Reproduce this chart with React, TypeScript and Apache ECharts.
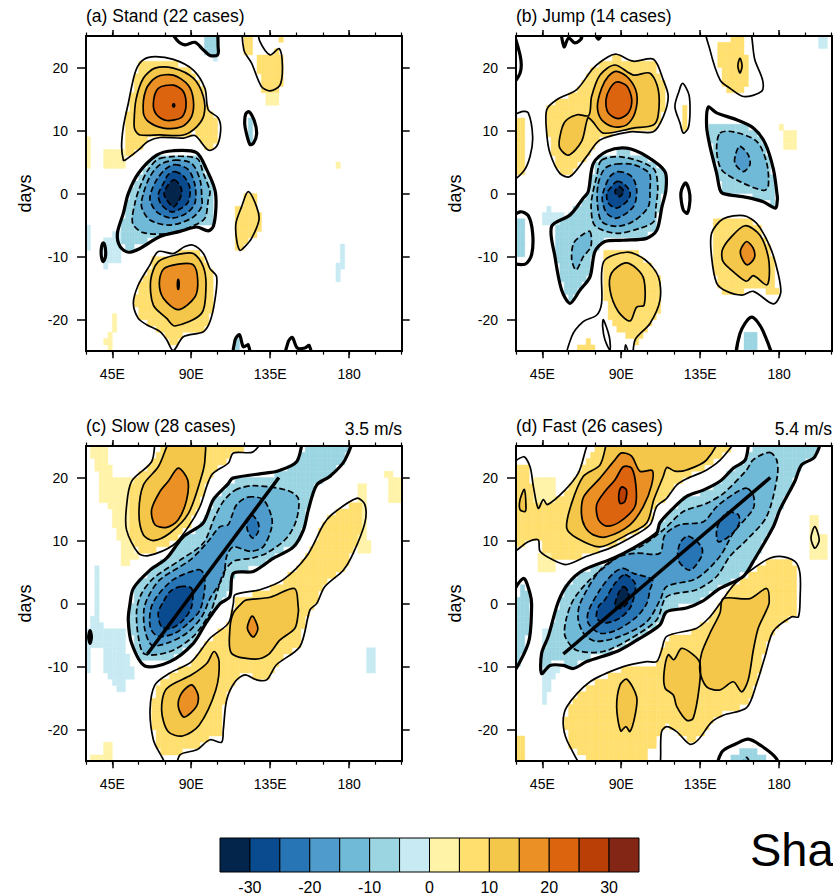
import React, { useEffect, useRef } from "react";
import * as echarts from "echarts";

type Contour = [number, number[], number?];
type Rect = [number, number, number, number, number];

const titles = ["(a) Stand (22 cases)", "(b) Jump (14 cases)", "(c) Slow (28 cases)", "(d) Fast (26 cases)"];
const speeds = ["", "", "3.5 m/s", "5.4 m/s"];
const lonMajor = [45, 90, 135, 180];
const lonMinor = [30, 45, 60, 75, 90, 105, 120, 135, 150, 165, 180, 195, 210];
const dayTicks = [-20, -10, 0, 10, 20];
const barEdges = [-35, -30, -25, -20, -15, -10, -5, 0, 5, 10, 15, 20, 25, 30, 35];
const barLabels = [-30, -20, -10, 0, 10, 20, 30];
const barColors = ["#03254c", "#0a4a8f", "#2875b5", "#4f9ccc", "#70bad7", "#9bd5e2", "#c8eaf3", "#fff3a8", "#ffdf6e", "#f4c74a", "#ea9024", "#dc640f", "#b93f06", "#842615"];
const levelColor: Record<string, string> = { "-30": "#03254c", "-25": "#0a4a8f", "-20": "#2875b5", "-15": "#4f9ccc", "-10": "#70bad7", "-5": "#9bd5e2", "-1": "#c8eaf3", "1": "#fff3a8", "5": "#ffdf6e", "10": "#f4c74a", "15": "#ea9024", "20": "#dc640f", "25": "#b93f06" };

const standContours: Contour[] = [
  [5, [51.3,5.3,50.3,7.5,51.3,10.6,54.1,14.3,57.9,19.1,61.7,21,67.4,21.7,79.8,21.3,91.2,19.6,97.8,16.7,99.7,13.3,105.4,12,106.8,10.1,104.5,7.5,99.7,6.9,92.1,9.2,85.5,8.8,72.2,8.9,65.5,8.3,59.8,6.9,52.2,5.3]],
  [10, [57.4,11.2,58.5,14.9,62.7,18.3,69.3,19.9,79.8,19.9,91.2,18.3,96.9,15.4,97.3,12.5,93.1,10.6,85.5,9.3,72.2,9.3,60.8,9.3,57.9,10.1]],
  [15, [62.7,12.8,64.2,16.5,70.3,18.5,79.8,18.8,88.3,17.2,91.2,14.9,90.2,12.2,84.5,10.6,74.1,10.4,65.7,11.4]],
  [20, [68.4,14.3,71.2,16.7,79.8,17.2,85.5,16.2,87,13.8,84.5,12.1,76,11.6,70.3,12.5]],
  [25, [79.6,14.2,80.4,14.2,80.4,13.8,79.6,13.8]],
  [5, [119.7,25,120,22.8,124.4,20.7,130,17,134.9,16.3,140.6,17.2,142,20.2,140.2,23,134.9,22,129.2,24.1,126.3,25], 0],
  [-5, [77,25,81.7,24.4,86.4,23.6,92.1,24,96.9,22.8,100.7,21.9,105,22,105.4,23,103,25], 0],
  [-5, [123,13,126,11.5,127.3,9.5,125.5,8,123.5,7.8,121.5,9.5,120.5,11,121,12.6]],
  [-5, [70.3,6.1,79.8,6.8,93,6.5,98.8,3.8,103.5,0.6,104.1,-2.1,102.6,-5.2,99.7,-5.9,93.1,-5.3,83.6,-6,72.2,-6.8,60.8,-8.7,54.1,-9.3,49.4,-8.4,47.9,-6.3,51.3,-3.1,54.1,0,59.8,3.2]],
  [-10, [72.2,5.6,93.1,5.6,96.9,3.2,100.7,0.3,99.7,-1,97.8,-3.9,91.2,-5.1,77.9,-6.3,62.7,-6.2,56.6,-4.7,57.9,-1.5,60.8,1.1,65.5,3.8]],
  [-15, [80.7,5.3,90.2,4.8,95,2.2,96,-0.5,95.9,-2.1,90.2,-3.9,77.9,-5,66.5,-4.2,61.7,-2.1,62.7,0,66.5,2.7,72.2,4.6]],
  [-20, [80.7,4.6,88.3,3.8,92.1,1.4,92.1,-1.5,87.4,-3.1,78.8,-3.9,70.3,-2.9,66.5,-1,67.4,0.5,70.3,2.2,75,3.8]],
  [-25, [80.7,3.5,85.9,2.7,89.3,0.8,88.3,-1.3,84.5,-2.3,78.8,-2.9,73.1,-1.8,71.2,-0.2,74.1,1.6,76.9,3]],
  [-30, [80.3,2.2,84,1.1,84.5,0,82.6,-1.3,79.8,-2.1,76,-1,74.5,0,76.9,1.4]],
  [-5, [39.9,-7.8,41,-8.6,41.1,-10,39.9,-10.8,38.8,-10,38.8,-8.6]],
  [5, [122.5,0.3,127.3,-2.1,128.6,-4.2,124.4,-7.1,120.6,-8.4,117.8,-9,115.9,-7.4,115.5,-4.7,118.7,-2.1]],
  [5, [91.2,-8.2,96.9,-9.5,100.7,-11.9,104.5,-13.2,103.5,-16.9,100.7,-20.3,96.9,-21.9,85.5,-22.7,79.8,-24.9,76,-23.2,72.2,-21.9,64.6,-20.8,59.8,-19.8,57,-17.4,59.8,-14.5,66.5,-11.3,71.2,-9.2,79.8,-9.5,86.4,-8.4]],
  [10, [91.2,-9.5,96.9,-11.6,98.4,-14.8,95.9,-19,80.7,-21,76,-19.8,68.4,-17.7,66.9,-13.7,71.2,-10.8,81.7,-9.7]],
  [15, [82.6,-11.2,91.2,-11.3,93.7,-13.7,92.1,-16.4,82.6,-18.4,74.1,-16.6,71.8,-14.2,74.1,-12]],
  [20, [82.6,-13.6,83.1,-14.4,82.6,-15.2,82.1,-14.4]],
  [-5, [114,-25,115,-23.2,117.5,-22.4,119.7,-24.3,122.5,-24,123.5,-25], 0],
  [-5, [143.4,-25,145.3,-23.5,147.6,-22.8,150.5,-24.5,154.8,-24.5,157.3,-24.1,158.7,-25], 0],
];
const standShades: Contour[] = [[5, [127.5,22,134,22,141,23,142.5,18,137,15.5,130.5,16.5,127.5,20]]];
const standRects: Rect[] = [
  [120,125,22,25,5],[140,142.5,24,25,5],[132.5,140,14,16,1],[30,32.5,4,9,1],[40,52.5,4,7,1],
  [30,32.5,-9,-5,-1],[40,50,-11,-7,-1],[40,42.5,-12,-11,-1],[45,50,-8,-6,-1],[175,177.5,-12,-8,-1],[172.5,175,-14,-11,-1],
  [45,47.5,-22,-19,1],[42.5,45,-25,-22,1],[40,42.5,-24,-23,1],[172.5,175,4,5,1],[102.5,105,21,22,-1],[97.5,105,22,25,-5],
  [125,130,-6,-3,5],[115,120,-9,-2,5],[120,127.5,-7,0,5],[115,117.5,-25,-23,-5],[122.5,125,8,12,-5],
];

const jumpContours: Contour[] = [
  [5, [47.5,13.3,53.2,14.9,64.6,16.5,74.1,19.9,82.6,21.7,87.4,22.1,96.9,21,108.4,21.3,114,18,116.8,15.4,114,12.2,108.3,9.8,95,9.8,77.9,8.5,70.3,5.9,60.8,2.7,55,3.2,49.4,6.4,47.5,9.6]],
  [10, [55,9,57.9,11.4,64.9,12.5,71.5,12.4,73.1,15.4,77.9,18.8,86.4,20.4,96.9,18.8,106.4,19.1,111.1,16.5,111.1,12.5,108.3,10.9,96.9,10.4,79.8,9.6,73.5,11.5,71,12,67.4,8.3,60,6.1,55,7.2]],
  [15, [87.4,19.4,94.2,18.3,98.8,15.9,97.8,12.8,93.1,10.9,85.5,10.6,78.8,11.7,76.4,13.8,78.8,16.7,82.6,18.6]],
  [20, [87.4,17.7,93.1,17.1,96,14.9,94,12.8,88.3,11.9,82.6,12.8,81.3,14.9,83.6,16.7]],
  [5, [30,11.7,33.2,13,37,12.8,39.5,9,38,5.9,34.2,3.5,30,1.9], 0],
  [5, [138.3,25,140.6,22.8,146.4,18,152.1,16.7,159.7,15.4,170,16.2,170.6,18,166.2,21.2,161.4,25], 0],
  [10, [157.7,21.5,158.9,20.3,157.7,19.1,156.5,20.3]],
  [5, [125,17.5,128.6,15.7,129.2,12.8,128.2,10.4,125.4,9.6,123.5,11.2,120.6,13.8,122.9,16.2], 0],
  [-5, [139.6,13.7,144.4,12.8,155.8,11.7,165.3,10.4,172,8,176.8,3.8,179,-0.5,179,-1,178,-2.3,171,-1.3,161.5,-0.6,148.2,0,146.3,0.6,144.4,3.2,140.6,7.5,138.7,10.6]],
  [-10, [146.3,9.6,153.9,9.8,167.2,8.3,173,4.8,173.8,1.1,171,0.5,157.7,1.9,147.2,3.8,144.4,6.9]],
  [-15, [157.7,7.5,162.5,6.1,163.4,4.6,159.6,3.5,154.8,4.8,155.4,6.4]],
  [-5, [74.1,4.8,81.7,6.7,93.1,7.2,104.5,5.9,114.9,3.5,115.5,0.6,113.2,-2.1,110.3,-5.8,104.5,-7.1,91.2,-7.4,80.7,-7.6,75,-9.2,72.2,-13.2,66.5,-15.3,60.8,-17.4,56,-15.3,52.2,-10,50.3,-5.2,60.8,-3.4,68.4,-0.7,71.2,0.3]],
  [-10, [78.8,5.3,91,5.8,108.3,4,110.8,1.1,109.8,-2.1,108.7,-4.4,100.7,-5.5,87.4,-6.3,75,-5.1,72.8,-2.1,73.7,0,76,2.7]],
  [-15, [87.4,4.7,96.9,4.6,106,3.2,106.4,0.8,105.4,-2.1,96.9,-4.4,87.4,-5.2,78.8,-4.4,76.4,-1.5,76.9,1.6,80.7,4]],
  [-20, [88.3,3.5,96,2.7,98.8,0.6,96.9,-2.1,87.4,-3.9,81.7,-3.1,79.2,-1,79.8,0.3,83.6,2.7]],
  [-25, [87.4,1.9,91.2,1.6,95,0.3,94,-1,87.4,-2.3,82.6,-1.5,81.7,0,83.6,0.8]],
  [-30, [88.9,1.1,91.4,0.3,88.9,-0.5,86.4,0.3]],
  [-10, [72.2,-6,72.7,-8.4,68.4,-10,64.3,-12.1,61.8,-10.5,62.8,-7.9,67.5,-6.6]],
  [-5, [30,-4.4,32.3,-2.9,37,-3.5,39.5,-6.3,38.9,-9.7,35.1,-11.2,30,-10.6], 0],
  [-5, [126.7,1.7,128.6,0.6,129.2,-1,127.7,-3.1,125.4,-2.6,124,-0.5,124.4,0.6], 0],
  [5, [148.2,-4,159.7,-3.5,167.2,-4.7,174.8,-8.4,179.4,-12.6,180.9,-15.8,176.7,-17.5,165.3,-15.5,158.7,-16.1,150.1,-15.5,144.4,-14.2,141.5,-10,141.5,-6.3], 0],
  [10, [160.6,-5.1,169.1,-6.6,173.8,-10,174.4,-13.2,172.9,-14.5,165.3,-13,161.5,-13.9,154.8,-12.6,148.1,-10.8,147.6,-9,152,-7.1]],
  [15, [161.5,-7.6,165.3,-8.7,165.9,-10.2,161.9,-11.3,158.7,-10.2,158.1,-8.9]],
  [5, [93.1,-9.3,103.6,-10.5,111.2,-13.2,112.1,-16.9,106.4,-20.6,97.9,-23.2,96,-25,92.5,-24,90.2,-25,59.3,-25,61.7,-22.7,68.3,-20.3,75.9,-19.3,78.8,-17.4,80,-10.8], 0],
  [5, [79.8,-20,83.2,-22.7,83.6,-24.8,80.7,-23.2,79.4,-21.1], 0],
  [10, [92.2,-11,98.8,-11.9,103,-13.7,103,-17.7,98.8,-18,95,-20.2,88.3,-18.7,83.6,-15.3,84.5,-12.6]],
  [-5, [156.7,-25,157.7,-22.2,164.3,-19.6,171,-21.9,175.7,-25], 0],
  [-5, [30,25,32.3,22,32.3,19.1,30,17], 0],
  [-5, [56,25,57.4,23.3,60,24.7,63.6,23.9,67.4,24.8], 0],
  [-5, [73.7,25,77,24.5,80.7,25], 0],
];
const jumpShades: Contour[] = [
  [5, [80,-9,98,-9,113,-13,113,-18,105,-22,100,-24,89,-22,84,-20,79,-14.7]],
  [5, [145,24,160,25,163,17,155,15.5,147,17]],
  [5, [143,-4,158,-3.5,168,-5,177,-10,179,-16,168,-15,152,-16,145,-15,141.5,-10]],
];
const jumpRects: Rect[] = [
  [30,35,3,12,5],[125,127.5,10,14,5],[30,35,-10,-4,-5],[45,57.5,-5,-3,-1],[47.5,50,-3,-2,-1],
  [65,75,-25,-24,5],[70,72.5,-24,-23,5],[160,167.5,-25,-22,-5],[202.5,207.5,23,25,-1],
  [180,182.5,10,11,1],[182.5,190,7,10,1],[152.5,155,16,17,5],[137.5,167.5,11,14,0],
];

const slowContours: Contour[] = [
  [5, [72.2,25,67.4,22.5,56,19.4,53.1,15.4,53.1,11.7,59.8,8,65.5,7.6,79.8,9.3,88.4,12.2,95,15.4,101.6,20.4,111.2,22.3,114,23.9,125.4,24.1,131,25]],
  [10, [80.7,25,71.2,21.7,62.7,18.8,60.2,14.3,62.7,10.9,68.4,10,77.9,11.2,88.4,14.3,95.9,20.2,97.8,22.8,96.9,25]],
  [15, [82.6,21.5,88,19.6,87.4,16.5,82.6,13.3,76,12.1,69.3,12.5,67.4,14.9,72.2,17.8,76.9,19.4]],
  [-5, [156.2,25,150.1,22.5,139,21,132.3,20.7,113.7,19.9,111,19,102.6,16.5,96.8,12.8,85.4,10.6,76,7.2,66.5,5.3,57,2.4,55,-0.2,54.1,-2.6,56,-6.3,63.6,-9.9,77.9,-9.2,91.2,-6.3,98.8,-2.9,106.4,0,112,1.1,114,4.8,125.4,5.1,136.9,7.2,148.3,9,154,11.7,156.8,14.9,161.5,18.8,169.1,20.2,177.7,22.8,181.4,25]],
  [-10, [115,18,125.4,18.7,144.4,18,151,16.7,150,13.3,144.4,10.4,133,8,124.4,7.2,114,6.7,108.3,4.8,103.5,0.6,100.7,-1.5,91.2,-5.2,77.9,-7.6,63.4,-8,59.8,-5.2,58.9,-1,61.7,1.6,68.4,4,83.6,6.9,96.9,9.6,103.5,13.8,108.3,16.2]],
  [-15, [122.5,16.9,131,16.5,135.8,13.8,135.8,12,131,9,123.5,8.3,114,9,110.2,7.5,108.3,4.3,100.7,0.8,96,-2.1,87.4,-4.7,76,-6.3,67.5,-6.6,63.6,-4.2,63,-1,65.5,1.1,72.2,3.8,89.3,6.9,98.8,9.6,106.4,12.2,111,12.5,113,13.8,115.9,15.7]],
  [-20, [124.4,14.1,128.2,12.8,128.2,11.4,125,10.4,122,11.7,122,13.5]],
  [-20, [94,5.4,96.9,4.8,97.8,2.7,95,-1,88.3,-3.1,80.7,-4.7,71.2,-5.2,66.8,-3.9,66.8,-1,70.3,1.1,79.8,3.8]],
  [-25, [83.6,2.7,90.2,2.4,90.2,-0.5,85.5,-2.6,78.8,-3.9,73.1,-3.7,71.2,-1.5,74.1,0.3,77.9,1.9]],
  [5, [114,0,115,1.4,129.2,2.2,142.5,3.8,155.8,7.5,165.3,12.5,170,14.1,184.3,16.7,189,15.7,189,12.8,182.4,8,176.7,5.3,166.2,2.7,161.5,0,157.7,-1,152,-6.8,138.6,-9.7,133,-12.1,127.3,-12.1,120.6,-11.3,115,-12.4,110.2,-15.3,108.3,-20,107.3,-22,100.7,-21.6,93.1,-23.2,83.6,-24,79.8,-25,72.2,-23.8,68.4,-21.6,66.5,-16.9,69.3,-12.9,77.9,-11,90.2,-9.2,100.7,-5.5,111.2,-3.1]],
  [10, [103,-7.6,105.9,-9.2,104,-13.7,94.5,-19.3,85,-21,76.8,-20.3,73.1,-16.9,75.9,-13.5,90.2,-11.3,98.8,-9.5]],
  [15, [90.2,-12.9,93.9,-14.5,93,-16.3,86,-18,82.6,-16.3,84.5,-14.2]],
  [10, [121.6,0.6,135,1,148.9,2.4,151,-0.5,151,-1.5,149.1,-3.9,140.5,-5.8,133.9,-8.1,126.4,-8.8,113,-7.9,112,-4.2,114,-1.5,119.7,0.3]],
  [15, [124.8,-2,128,-3.9,125.4,-5.3,122,-3.9]],
  [-5, [32.3,-4.3,33.1,-5.3,32.3,-6.3,31.5,-5.3]],
];
const slowShades: Contour[] = [
  [1, [32.5,25,42.5,25,45,20,57,20,54,12,60,7,51,6,50,9,47,11.5,42.5,16,37.5,16,37.5,20,32.5,24]],
  [-1, [35,0,37.5,0,37.5,-2,40,-3,42.5,-4,53,-4,54,-9,57,-10,57,-12,53,-12.5,51,-14,47.5,-14,45,-12,42.5,-11,40,-10,40,-7,32.5,-7,32.5,-11,30,-11,30,-4,32.5,-4]],
  [1, [185,19,190,19,190,10,193,9,193,8,184,8]],
];
const slowRects: Rect[] = [
  [35,37.5,0,6,-1],[190,195,-11,-7,-1],[32.5,45,-25,-24,1],[40,45,-24,-22,1],[200,205,20,21,1],[202.5,210,16,20,1],
];

const fastContours: Contour[] = [
  [5, [30,8,30,21.2,34.2,23.3,38,21.7,39.9,18.6,42.7,15.1,45.6,16.5,47.9,15.7,57.9,18,65.5,20.7,75.9,25,155.8,25,148.2,23.3,138.7,21.2,127.3,19.8,121.6,18.8,115.9,16.7,110.2,15.4,106.4,12.5,95,10.4,83.6,8.8,70.3,7.5,58.9,6.2,51.3,6.9,43.7,8.3,42.7,10.1,37,9.8]],
  [10, [58.9,12,61.7,15.9,68.4,20.2,77.9,22,85.5,25,145.3,25,138.7,22.8,127.3,21.2,120.6,21,116,21.6,114,20.2,108.6,16.5,104.5,12.8,93,10.9,77.9,9,64.6,10.4]],
  [15, [67.3,14.3,68.7,17,77.9,19.9,86.4,22.8,90.2,23.9,95.9,23.4,100.7,21,107.7,21.1,107.3,18.8,102.6,15.4,95,12.5,81.7,10.6,74.1,10.9,69.3,12.2]],
  [20, [76,15.7,80.7,17.8,86.4,19.6,91.2,21.7,95.9,21.5,98.4,18.6,97.8,15.4,89.3,13,81.7,12.3,77,13.3]],
  [25, [90.2,18.5,93,18,92.1,16.2,89.3,15.9,88.7,17.5]],
  [10, [34.8,18.1,35.7,15.4,35.2,14.6,32.3,14.9,32.3,16.5]],
  [5, [200.4,12.2,202.9,10.1,200.4,8.8,198.2,10.4], 0],
  [-5, [165.4,25,160.7,22.8,154,21.5,146.3,19.4,136.8,18,127.3,17,118.8,14.9,112,12.8,110.2,11.2,96.9,8.8,85.5,7.2,68.4,5.3,59.8,3.2,54.1,0.3,48.4,-5.2,44.6,-7.9,44.6,-11.1,49.4,-9.8,57,-9.8,62.7,-10.3,70.3,-9.2,87.4,-7.6,98.8,-5.8,112,-3.4,115.8,-1.3,127.2,-0.7,135.8,0.3,146.3,2.4,159.6,4.3,165.3,6.7,176.7,12.2,180.5,14.9,189,19.4,192.8,22,200.4,23.3,203.3,25]],
  [-10, [174.5,24,178.6,22.8,179,20.2,172.9,13.8,161.5,10.1,152,7.5,144.4,4.3,133,2.2,116,1.1,110.2,-2.6,95,-5.6,79.8,-7.6,64.6,-7.4,58,-5.2,58.5,-2.6,62.7,0.6,72.2,3.8,91.2,8,100.7,9,114,11.7,125.4,14.6,138.7,15.9,148.3,17.5,161.5,21.2,165.2,22.8]],
  [-15, [161.5,18.3,165.3,17.2,165.3,15.1,153.9,11.2,146.3,7.5,133,4,115.9,2.7,112.2,0.6,104.5,-2.9,89.3,-5.2,76,-6,69.3,-5,65.5,-2.6,66.5,0,77.9,5.3,89.3,7.5,98.8,8,112,8,114.9,10.9,123.4,12.5,136.9,13,144.5,15.4,154.8,17.5]],
  [-20, [150.8,14.5,156.7,14.1,157.3,12.8,152.9,11,145.4,9.8,144.4,11.7,147.2,13.5]],
  [-20, [128.2,10.7,135.8,9,135.8,7.5,129.2,5.3,122.5,6.9,123.5,9.6]],
  [-20, [91.2,5.6,96.9,4.8,107.7,3.8,106.4,2.2,104.5,0,98.8,-2.1,87.4,-4.2,77.9,-4.7,71.2,-3.1,71.2,-1.3,77.9,2.2,85.5,4.8]],
  [-25, [92.1,4.6,97.9,3.2,97.3,1.1,95,-0.7,89.3,-2.3,80.7,-3.1,76,-2.3,77,-0.5,80.7,0.6,86.4,3.2]],
  [-30, [91.2,2.7,93.9,1.9,93.9,0.3,90.2,-0.7,86.4,-0.5,88.3,1.6]],
  [-5, [30,0,34.2,4,38,1.6,38.9,-0.5,37,-6.3,30,-11.5]],
  [5, [146.3,0,155,3.2,172.5,6.9,180.5,7.5,189,6.7,191.9,4.8,192,1,191,-2.1,187.2,-2.1,176.7,-4.4,172,-8.4,167.3,-12.6,161.5,-16.5,148.2,-17.7,141.5,-18.8,133.9,-21.6,129.1,-22.3,121.6,-20.3,115.9,-19.5,113,-20.3,109.6,-25,72.2,-25,60.8,-22.7,57,-19.5,58.9,-16.4,72.2,-12.4,91.2,-10,104.5,-9.2,110.2,-9.2,113,-7.4,115.9,-5.2,133,-3.9,140.6,-2.1]],
  [10, [148.2,0.8,163.4,0.8,172.9,2.4,174.4,0.3,172.9,-1,168.1,-3.9,165.3,-7.4,162.4,-12.1,158.7,-14,153.9,-12.4,146.3,-13.7,138.7,-13.2,134.9,-10.8,135.8,-7.9,140.6,-4.7,146.3,-1.5]],
  [10, [124.4,-7.1,131,-8.1,134.9,-9.5,134.5,-13.2,131,-18.2,127.3,-18.5,121.6,-16.3,119.7,-14.5,115,-13.4,114.4,-11,116.8,-8.1,120,-8.9]],
  [10, [93.2,-12,98.8,-14.8,97.9,-17.7,95,-20.3,92.7,-19.5,89.7,-20.2,87.4,-16.4,89.3,-12.9]],
  [-5, [145.3,-25,147.2,-23.6,155.8,-22.2,162.4,-21.5,169,-22.4,178.5,-24.6,179.5,-25], 0],
  [-10, [156.7,-25,161.5,-24.4,164.3,-25]],
];
const fastShades: Contour[] = [
  [1, [40,20,52,20,52,15,45,15,40,15]],
  [-1, [47,-3.5,50,-4,50,-10,55,-10,52,-12,50,-13,47.5,-15.5,45,-15.5,44.5,-10,44,-7]],
];
const fastRects: Rect[] = [
  [197.5,202.5,7,14,1],[202.5,207.5,7,11,1],[42.5,52.5,5,8,1],[30,35,-25,-21,5],
  [158,167.5,-24,-23,-5],[152.5,172.5,-25,-24,-5],[105,110,-25,-23,0],
];

const contourSets = [standContours, jumpContours, slowContours, fastContours];
const shadeSets = [standShades, jumpShades, slowShades, fastShades];
const rectSets = [standRects, jumpRects, slowRects, fastRects];
const waveLons: (number[] | null)[] = [null, null, [65, 140], [57, 175]];
const waveDays = [-8, 20];

const BLACK = "#000";
const FONT = "Liberation Sans";
const panelRects = [
  { left: 86, top: 36 },
  { left: 516, top: 36 },
  { left: 86, top: 446 },
  { left: 516, top: 446 },
];
const W = 315.7;
const H = 315.2;

function inside(x: number, y: number, p: number[]) {
  let c = false;
  const n = p.length / 2;
  for (let i = 0, j = n - 1; i < n; j = i++) {
    const xi = p[2 * i], yi = p[2 * i + 1], xj = p[2 * j], yj = p[2 * j + 1];
    if (yi > y !== yj > y && x < ((xj - xi) * (y - yi)) / (yj - yi) + xi) c = !c;
  }
  return c;
}

// A cell takes a contour's colour when its centre and at least three corners fall inside;
// the original shading is masked a little inside its outermost contour.
function cellInside(lon: number, day: number, p: number[], strict: boolean) {
  if (!inside(lon + 1.25, day + 0.5, p)) return false;
  if (!strict) return true;
  let n = 0;
  for (const [a, b] of [[0, 0], [2.5, 0], [0, 1], [2.5, 1]]) {
    const edgeDay = Math.max(-24.99, Math.min(24.99, day + b));
    const edgeLon = Math.max(30.01, lon + a);
    if (inside(edgeLon, edgeDay, p)) n++;
  }
  return n >= 3;
}

function shadedCells(contours: Contour[], shades: Contour[], rects: Rect[]) {
  const m = new Map<string, number>();
  const put = (lon: number, day: number, lv: number) => {
    const k = lon + "," + day;
    const old = m.get(k);
    if (lv === 0) m.delete(k);
    else if (old === undefined || Math.abs(lv) >= Math.abs(old)) m.set(k, lv);
  };
  const lined = contours.filter((c) => Math.abs(c[0]) === 5 && c[2] !== 0);
  for (let lon = 30; lon < 210; lon += 2.5) {
    for (let day = -25; day < 25; day++) {
      for (const c of shades) if (cellInside(lon, day, c[1], false)) put(lon, day, c[0]);
      for (const c of lined) if (cellInside(lon, day, c[1], true)) put(lon, day, c[0]);
    }
  }
  for (const r of rects) {
    for (let lon = r[0]; lon < r[1] - 0.01; lon += 2.5) {
      for (let day = r[2]; day < r[3]; day++) put(Math.floor(lon / 2.5) * 2.5, day, r[4]);
    }
  }
  return [...m.entries()].map(([k, lv]) => {
    const [a, b] = k.split(",").map(Number);
    return [a, b, lv];
  });
}

function pushOut(lon: number, day: number) {
  return [lon <= 30 ? 26 : lon, day >= 25 ? 27 : day <= -25 ? -27 : day];
}

function buildOption() {
  const grid: any[] = [];
  const xAxis: any[] = [];
  const yAxis: any[] = [];
  const series: any[] = [];
  const title: any[] = [];
  const spine = { show: true, onZero: false, lineStyle: { color: BLACK, width: 2 } };

  panelRects.forEach((r, p) => {
    const g = grid.length;
    grid.push({ left: r.left, top: r.top, width: W, height: H });
    grid.push({ left: r.left, top: r.top, width: W, height: H });
    const xBase = { type: "value", min: 30, max: 210, z: 10, splitLine: { show: false }, axisLine: spine };
    const x0 = xAxis.length;
    xAxis.push({
      ...xBase, gridIndex: g, position: "bottom",
      axisTick: { show: true, length: 7, customValues: lonMajor, lineStyle: { color: BLACK, width: 1.5 } },
      axisLabel: { show: true, margin: 16, customValues: lonMajor, fontFamily: FONT, fontSize: 14, color: BLACK, formatter: (v: number) => (v === 180 ? "180" : v + "E") },
    });
    xAxis.push({ ...xBase, gridIndex: g, position: "top", axisTick: { show: true, length: 6, customValues: lonMajor, lineStyle: { color: BLACK, width: 1.5 } }, axisLabel: { show: false } });
    xAxis.push({ ...xBase, gridIndex: g + 1, position: "bottom", axisTick: { show: true, length: 3.5, customValues: lonMinor, lineStyle: { color: BLACK, width: 1.2 } }, axisLabel: { show: false } });
    xAxis.push({ ...xBase, gridIndex: g + 1, position: "top", axisTick: { show: true, length: 3.5, customValues: lonMinor, lineStyle: { color: BLACK, width: 1.2 } }, axisLabel: { show: false } });
    const yBase = { type: "value", min: -25, max: 25, z: 10, splitLine: { show: false }, axisLine: spine };
    const y0 = yAxis.length;
    yAxis.push({
      ...yBase, gridIndex: g, position: "left", name: "days", nameLocation: "middle", nameGap: 52, nameRotate: 90,
      nameTextStyle: { fontFamily: FONT, fontSize: 18, color: BLACK },
      axisTick: { show: true, length: 9, customValues: dayTicks, lineStyle: { color: BLACK, width: 1.5 } },
      axisLabel: { show: true, margin: 18, customValues: dayTicks, fontFamily: FONT, fontSize: 14, color: BLACK },
    });
    yAxis.push({ ...yBase, gridIndex: g, position: "right", axisTick: { show: true, length: 8, customValues: dayTicks, lineStyle: { color: BLACK, width: 1.5 } }, axisLabel: { show: false } });
    yAxis.push({ ...yBase, gridIndex: g + 1, position: "left", axisLine: { show: false }, axisTick: { show: false }, axisLabel: { show: false } });

    const contours = contourSets[p];
    const cells = shadedCells(contours, shadeSets[p], rectSets[p]);
    series.push({
      type: "custom", xAxisIndex: x0, yAxisIndex: y0, clip: true, z: 2, silent: true, data: cells,
      renderItem: (_: any, api: any) => {
        const a = api.coord([api.value(0), api.value(1) + 1]);
        const b = api.coord([api.value(0) + 2.5, api.value(1)]);
        const col = levelColor[String(api.value(2))];
        return { type: "rect", shape: { x: a[0], y: a[1], width: b[0] - a[0], height: b[1] - a[1] }, style: { fill: col, stroke: col, lineWidth: 0.4 } };
      },
    });
    const fills = contours.filter((c) => Math.abs(c[0]) >= 10).sort((u, v) => Math.abs(u[0]) - Math.abs(v[0]));
    const toPoints = (api: any, pts: number[]) => {
      const out: number[][] = [];
      for (let i = 0; i < pts.length; i += 2) out.push(api.coord(pushOut(pts[i], pts[i + 1])));
      return out;
    };
    series.push({
      type: "custom", xAxisIndex: x0, yAxisIndex: y0, clip: true, z: 3, silent: true,
      data: fills.map((_, i) => [i]),
      renderItem: (params: any, api: any) => {
        const c = fills[params.dataIndex];
        return { type: "polygon", shape: { points: toPoints(api, c[1]), smooth: 0.3 }, style: { fill: levelColor[String(c[0])] } };
      },
    });
    series.push({
      type: "custom", xAxisIndex: x0, yAxisIndex: y0, clip: true, z: 4, silent: true,
      data: contours.map((_, i) => [i]),
      renderItem: (params: any, api: any) => {
        const c = contours[params.dataIndex];
        const lv = c[0];
        return {
          type: "polygon",
          shape: { points: toPoints(api, c[1]), smooth: 0.3 },
          style: { fill: "none", stroke: BLACK, lineWidth: lv === -5 ? 3.2 : 1.7, lineDash: lv < -5 ? [6, 3] : undefined },
        };
      },
    });
    const wl = waveLons[p];
    if (wl) {
      series.push({
        type: "line", xAxisIndex: x0, yAxisIndex: y0, z: 5, silent: true, symbol: "none", clip: true,
        data: [[wl[0], waveDays[0]], [wl[1], waveDays[1]]],
        lineStyle: { color: BLACK, width: 3.5 },
      });
    }
    title.push({ text: titles[p], left: r.left, top: r.top - 29, textStyle: { fontFamily: FONT, fontSize: 17.5, fontWeight: "normal", color: BLACK }, padding: 0 });
    if (speeds[p]) {
      title.push({ text: speeds[p], left: r.left + W - 57, top: r.top - 26, textStyle: { fontFamily: FONT, fontSize: 17.5, fontWeight: "normal", color: BLACK }, padding: 0 });
    }
  });

  // colour bar
  const gb = grid.length;
  grid.push({ left: 220, top: 838, width: 419, height: 34 });
  const xb = xAxis.length;
  const yb = yAxis.length;
  xAxis.push({
    type: "value", gridIndex: gb, min: -35, max: 35, position: "bottom", splitLine: { show: false }, axisLine: { show: false }, axisTick: { show: false },
    axisLabel: { show: true, margin: 7, customValues: barLabels, fontFamily: FONT, fontSize: 16, color: BLACK },
  });
  yAxis.push({ type: "value", gridIndex: gb, min: 0, max: 1, show: false });
  series.push({
    type: "custom", xAxisIndex: xb, yAxisIndex: yb, silent: true, z: 3,
    data: barColors.map((_, i) => [barEdges[i], barEdges[i + 1]]),
    renderItem: (params: any, api: any) => {
      const a = api.coord([api.value(0), 1]);
      const b = api.coord([api.value(1), 0]);
      return { type: "rect", shape: { x: a[0], y: a[1], width: b[0] - a[0], height: b[1] - a[1] }, style: { fill: barColors[params.dataIndex], stroke: BLACK, lineWidth: 1 } };
    },
  });

  return {
    animation: false,
    backgroundColor: "#fff",
    title,
    grid,
    xAxis,
    yAxis,
    series,
    graphic: [{ type: "text", left: 750, top: 826, style: { text: "Sha", fontFamily: FONT, fontSize: 47, fill: BLACK } }],
  };
}

export default function App() {
  const ref = useRef<HTMLDivElement>(null);
  useEffect(() => {
    document.body.style.margin = "0";
    const chart = echarts.init(ref.current!, undefined, { renderer: "svg" });
    chart.setOption(buildOption());
    return () => chart.dispose();
  }, []);
  return <div ref={ref} style={{ width: 833, height: 896, overflow: "hidden" }} />;
}
